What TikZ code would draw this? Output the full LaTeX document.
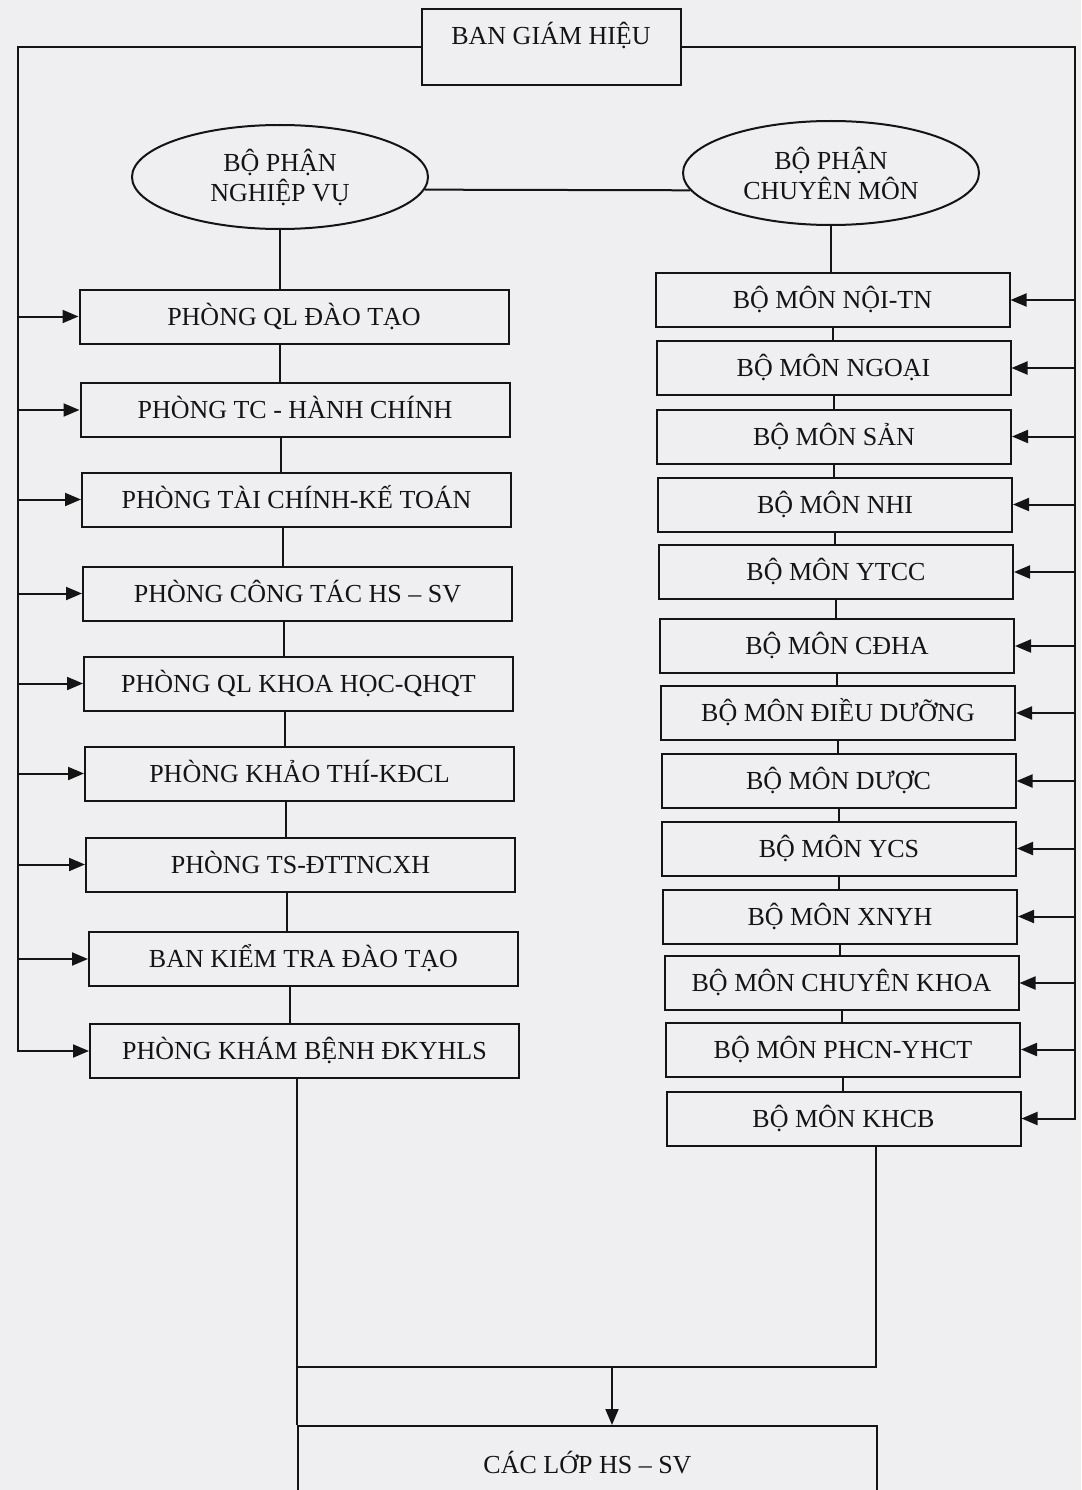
\documentclass[tikz,border=0pt]{standalone}
\usepackage{fontspec}
\setmainfont{Liberation Serif}
\usetikzlibrary{shapes.geometric,arrows.meta}
\definecolor{paper}{RGB}{239,239,241}
\definecolor{ink}{RGB}{20,20,20}
\begin{document}
\begin{tikzpicture}[x=1pt,y=-1pt,
  every node/.style={font=\fontsize{26}{30}\selectfont, text=ink},
  lbox/.style={draw=ink, line width=2pt, minimum width=429pt, minimum height=54pt, inner sep=0pt, text height=17pt, text depth=0pt},
  rbox/.style={draw=ink, line width=2pt, minimum width=354pt, minimum height=54pt, inner sep=0pt, text height=17pt, text depth=0pt},
  oval/.style={draw=ink, line width=2pt, ellipse, minimum width=296pt, minimum height=104pt, inner sep=0pt, align=center},
  link/.style={draw=ink, line width=2pt},
  arr/.style={link, -{Triangle[length=16pt,width=13pt]}}]
\useasboundingbox (0,0) rectangle (1081,1490);
\fill[paper] (0,0) rectangle (1081,1490);
\clip (0,0) rectangle (1081,1490);

% top
\node[draw=ink, line width=2pt, anchor=north, minimum width=259pt, inner xsep=0pt, inner ysep=0pt, text height=36pt, text depth=40pt] (bgh) at (551,8) {BAN GIÁM HIỆU};

\node[oval] (nv) at (280,177) {BỘ PHẬN\\NGHIỆP VỤ};
\node[oval] (cm) at (831,173) {BỘ PHẬN\\CHUYÊN MÔN};

% left column
\node[lbox] (l1) at (294,316.5) {PHÒNG QL ĐÀO TẠO};
\node[lbox] (l2) at (295,410) {PHÒNG TC - HÀNH CHÍNH};
\node[lbox] (l3) at (296.5,499.5) {PHÒNG TÀI CHÍNH-KẾ TOÁN};
\node[lbox] (l4) at (297.5,593.5) {PHÒNG CÔNG TÁC HS – SV};
\node[lbox] (l5) at (298.5,683.5) {PHÒNG QL KHOA HỌC-QHQT};
\node[lbox] (l6) at (299.5,773.5) {PHÒNG KHẢO THÍ-KĐCL};
\node[lbox] (l7) at (300.5,864.5) {PHÒNG TS-ĐTTNCXH};
\node[lbox] (l8) at (303.5,959) {BAN KIỂM TRA ĐÀO TẠO};
\node[lbox] (l9) at (304.5,1051) {PHÒNG KHÁM BỆNH ĐKYHLS};

% right column
\node[rbox] (r1) at (832.5,300) {BỘ MÔN NỘI-TN};
\node[rbox] (r2) at (833.5,368) {BỘ MÔN NGOẠI};
\node[rbox] (r3) at (834,436.5) {BỘ MÔN SẢN};
\node[rbox] (r4) at (835,504.5) {BỘ MÔN NHI};
\node[rbox] (r5) at (836,572) {BỘ MÔN YTCC};
\node[rbox] (r6) at (837,646) {BỘ MÔN CĐHA};
\node[rbox] (r7) at (838,713) {BỘ MÔN ĐIỀU DƯỠNG};
\node[rbox] (r8) at (838.5,781) {BỘ MÔN DƯỢC};
\node[rbox] (r9) at (839,848.5) {BỘ MÔN YCS};
\node[rbox] (r10) at (840,916.5) {BỘ MÔN XNYH};
\node[rbox] (r11) at (841.5,983) {BỘ MÔN CHUYÊN KHOA};
\node[rbox] (r12) at (843,1049.5) {BỘ MÔN PHCN-YHCT};
\node[rbox] (r13) at (843.5,1118.5) {BỘ MÔN KHCB};

% bottom
\node[draw=ink, line width=2pt, anchor=north, minimum width=579pt, inner xsep=0pt, inner ysep=0pt, text height=47pt, text depth=80pt] (low) at (587.5,1425) {CÁC LỚP HS – SV};

% connectors
\coordinate (lx) at (18,0);
\coordinate (rx) at (1075,0);
\draw[arr] (bgh.west) -| (lx |- l9.west) -- (l9.west);
\foreach \i in {1,...,8} \draw[arr] (lx |- l\i.west) -- (l\i.west);
\draw[arr] (bgh.east) -| (rx |- r13.east) -- (r13.east);
\foreach \i in {1,...,12} \draw[arr] (rx |- r\i.east) -- (r\i.east);

\draw[link] (nv.-5) -- (cm.187);

\draw[link] (nv.south) -- (nv.south |- l1.north);
\foreach \i/\j in {1/2,2/3,3/4,4/5,5/6,6/7,7/8,8/9}
  \draw[link] ([xshift=-14pt]l\i.south) -- ([xshift=-14pt]l\i.south |- l\j.north);
\draw[link] (cm.south) -- (cm.south |- r1.north);
\foreach \i/\j in {1/2,2/3,3/4,4/5,5/6,6/7,7/8,8/9,9/10,10/11,11/12,12/13}
  \draw[link] (r\i.south) -- (r\i.south |- r\j.north);

\coordinate (jl) at (297,1367);
\coordinate (jr) at (876,1367);
\coordinate (jm) at (612,1367);
\draw[link] (jl |- l9.south) -- (jl |- low.north);
\draw[link] (jr |- r13.south) -- (jr) -- (jl);
\draw[arr] (jm) -- (jm |- low.north);
\end{tikzpicture}
\end{document}
